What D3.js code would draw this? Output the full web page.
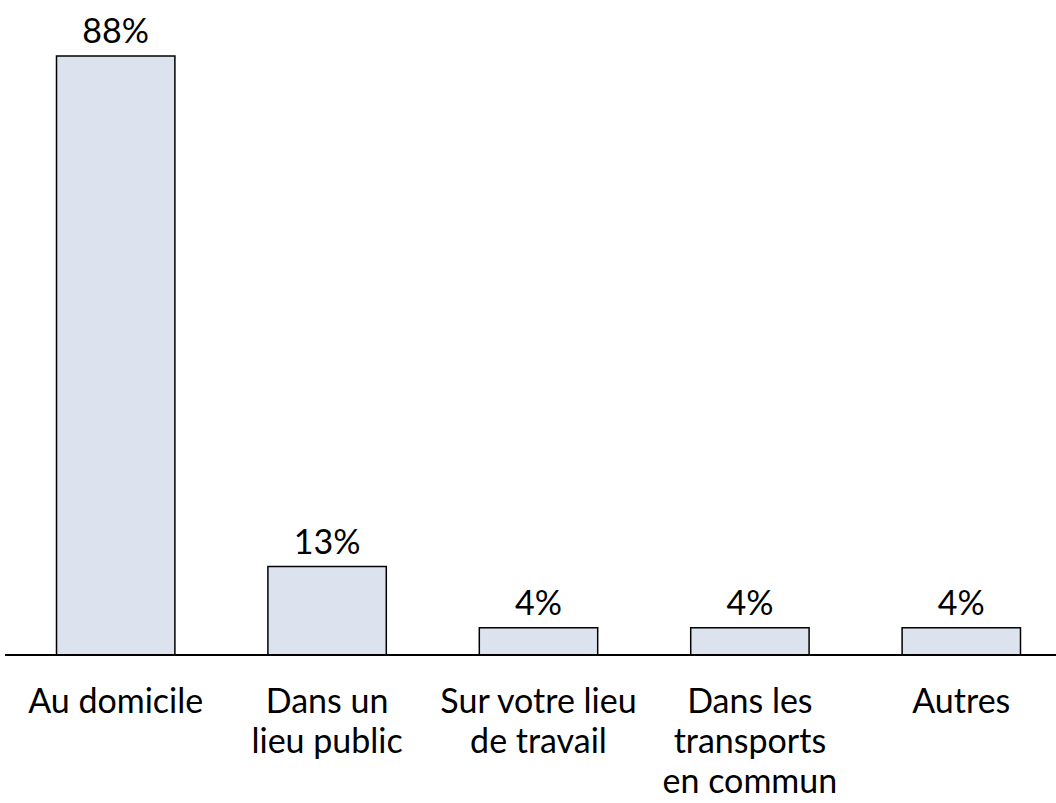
<!DOCTYPE html>
<html>
<head>
<meta charset="utf-8">
<script src="https://cdn.jsdelivr.net/npm/d3@7"></script>
<style>
  body { margin: 0; background: #fff; }
  svg { display: block; }
</style>
</head>
<body>
<svg width="1056" height="803"></svg>
<script>
const categories = [
    ['Au domicile'],
    ['Dans un', 'lieu public'],
    ['Sur votre lieu', 'de travail'],
    ['Dans les', 'transports', 'en commun'],
    ['Autres']
];
const values = [88, 13, 4, 4, 4];
const valueLabels = ['88%', '13%', '4%', '4%', '4%'];

const svg = d3.select('svg');
const width = 1056;
const height = 803;
const baseY = 655;
const font = 'Lato, "Open Sans", sans-serif';

const x = d3.scaleBand()
    .domain(d3.range(categories.length))
    .range([10, 1067])
    .paddingInner(0.44)
    .paddingOuter(0.22);

const y = d3.scaleLinear()
    .domain([0, 88])
    .range([baseY, 56]);

// bars
svg.append('g')
    .selectAll('rect')
    .data(values)
    .join('rect')
    .attr('x', (d, i) => x(i))
    .attr('y', d => y(d))
    .attr('width', x.bandwidth())
    .attr('height', d => baseY - y(d))
    .attr('fill', '#dce3ee')
    .attr('stroke', '#000')
    .attr('stroke-width', 1.5);

// value labels
svg.append('g')
    .selectAll('text')
    .data(values)
    .join('text')
    .attr('x', (d, i) => x(i) + x.bandwidth() / 2)
    .attr('y', d => y(d) - 13)
    .attr('text-anchor', 'middle')
    .style('font-family', font)
    .style('font-size', '34px')
    .attr('fill', '#000')
    .text((d, i) => valueLabels[i]);

// baseline
svg.append('line')
    .attr('x1', 5)
    .attr('x2', width)
    .attr('y1', baseY)
    .attr('y2', baseY)
    .attr('stroke', '#000')
    .attr('stroke-width', 2);

// category labels
const cat = svg.append('g')
    .selectAll('text')
    .data(categories)
    .join('text')
    .attr('x', (d, i) => x(i) + x.bandwidth() / 2)
    .attr('y', baseY + 58)
    .attr('text-anchor', 'middle')
    .style('font-family', font)
    .style('font-size', '34px')
    .attr('fill', '#000');

cat.selectAll('tspan')
    .data(d => d)
    .join('tspan')
    .attr('x', function() { return this.parentNode.getAttribute('x'); })
    .attr('dy', (d, i) => i === 0 ? 0 : 40)
    .text(d => d);
</script>
</body>
</html>
